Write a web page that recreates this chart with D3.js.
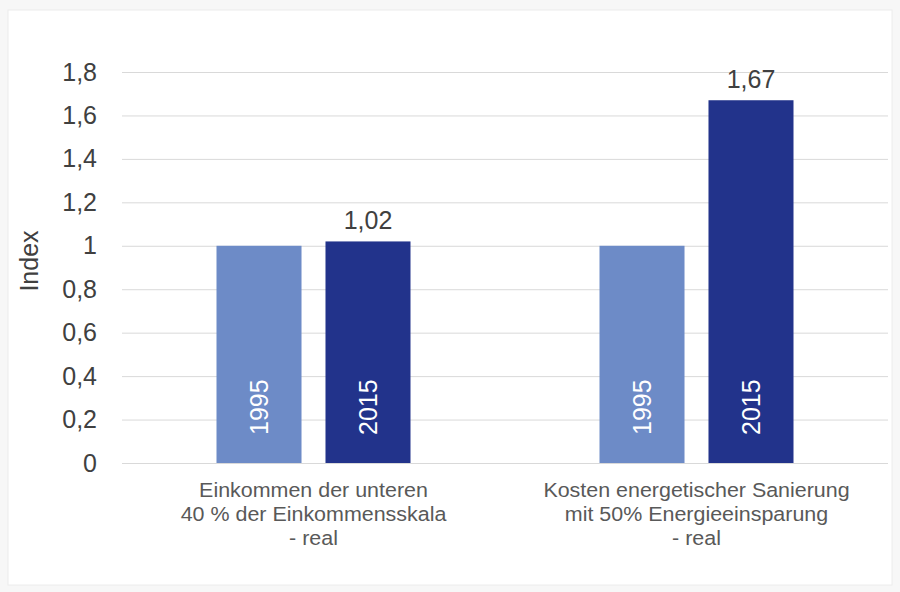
<!DOCTYPE html>
<html>
<head>
<meta charset="utf-8">
<script src="https://cdn.jsdelivr.net/npm/d3@7"></script>
<style>
  body { margin: 0; background: #f7f7f7; }
  svg { display: block; font-family: "Liberation Sans", Arial, sans-serif; }
</style>
</head>
<body>
<div class="chart"></div>
<script>
// data
var categories = [
  ["Einkommen der unteren", "40 % der Einkommensskala", "- real"],
  ["Kosten energetischer Sanierung", "mit 50% Energieeinsparung", "- real"]
];
var years = ["1995", "2015"];
var values1995 = [1, 1];
var values2015 = [1.02, 1.67];
var yTicks = [0, 0.2, 0.4, 0.6, 0.8, 1, 1.2, 1.4, 1.6, 1.8];
var yearColors = ["#6d8bc7", "#22338b"];

var svgWidth = 900;
var svgHeight = 592;

var margin = { top: 72, right: 12, bottom: 129, left: 122 };
var chartWidth = svgWidth - margin.left - margin.right;
var chartHeight = svgHeight - margin.top - margin.bottom;

var svg = d3.select(".chart")
  .append("svg")
  .attr("width", svgWidth)
  .attr("height", svgHeight);

// card background
svg.append("rect")
  .attr("x", 8).attr("y", 10)
  .attr("width", 884).attr("height", 575)
  .attr("fill", "#ffffff")
  .attr("stroke", "#ececec");

var chartGroup = svg.append("g")
  .attr("transform", `translate(${margin.left}, ${margin.top})`);

var yScale = d3.scaleLinear()
  .domain([0, 1.8])
  .range([chartHeight, 0]);

var xScale = d3.scaleBand()
  .domain(d3.range(categories.length))
  .range([0, chartWidth]);

var groupWidth = 194;
var xInner = d3.scaleBand()
  .domain(years)
  .range([0, groupWidth])
  .paddingInner(0.22);

// gridlines + tick labels
var leftAxis = d3.axisLeft(yScale)
  .tickValues(yTicks)
  .tickSize(-chartWidth)
  .tickPadding(25)
  .tickFormat(d => String(d).replace(".", ","));

var yAxis = chartGroup.append("g").call(leftAxis);
yAxis.select(".domain").remove();
yAxis.selectAll(".tick line").attr("stroke", "#d9d9d9").attr("stroke-width", 1);
yAxis.selectAll(".tick text")
  .attr("fill", "#404040")
  .attr("font-size", "25px")
  .attr("font-family", "Liberation Sans, Arial, sans-serif");

// y title
svg.append("text")
  .attr("transform", `translate(38, 261) rotate(-90)`)
  .attr("text-anchor", "middle")
  .attr("fill", "#404040")
  .attr("font-size", "25px")
  .text("Index");

// bars
var rows = [];
categories.forEach(function(c, i) {
  rows.push({ cat: i, year: years[0], value: values1995[i], color: yearColors[0], label: false });
  rows.push({ cat: i, year: years[1], value: values2015[i], color: yearColors[1], label: true });
});

function barX(d) {
  return xScale(d.cat) + (xScale.bandwidth() - groupWidth) / 2 + xInner(d.year);
}

chartGroup.selectAll(".bar")
  .data(rows)
  .enter()
  .append("rect")
  .attr("class", "bar")
  .attr("x", barX)
  .attr("width", xInner.bandwidth())
  .attr("y", d => yScale(d.value))
  .attr("height", d => chartHeight - yScale(d.value))
  .attr("fill", d => d.color);

// year labels inside bars
chartGroup.selectAll(".yearLabel")
  .data(rows)
  .enter()
  .append("text")
  .attr("transform", d => `translate(${barX(d) + xInner.bandwidth() / 2 + 9}, ${chartHeight - 28}) rotate(-90)`)
  .attr("fill", "#ffffff")
  .attr("font-size", "25px")
  .text(d => d.year);

// value labels
chartGroup.selectAll(".valueLabel")
  .data(rows.filter(d => d.label))
  .enter()
  .append("text")
  .attr("x", d => barX(d) + xInner.bandwidth() / 2)
  .attr("y", d => yScale(d.value) - 12)
  .attr("text-anchor", "middle")
  .attr("fill", "#404040")
  .attr("font-size", "25px")
  .text(d => String(d.value).replace(".", ","));

// category labels (slightly wide font in the original)
categories.forEach(function(lines, i) {
  var t = chartGroup.append("g")
    .attr("transform", `translate(${xScale(i) + xScale.bandwidth() / 2}, ${chartHeight + 34}) scale(1.1, 1)`)
    .append("text")
    .attr("text-anchor", "middle")
    .attr("fill", "#595959")
    .attr("font-size", "19.5px");
  lines.forEach(function(line, j) {
    t.append("tspan")
      .attr("x", 0)
      .attr("y", j * 24)
      .text(line);
  });
});
</script>
</body>
</html>
